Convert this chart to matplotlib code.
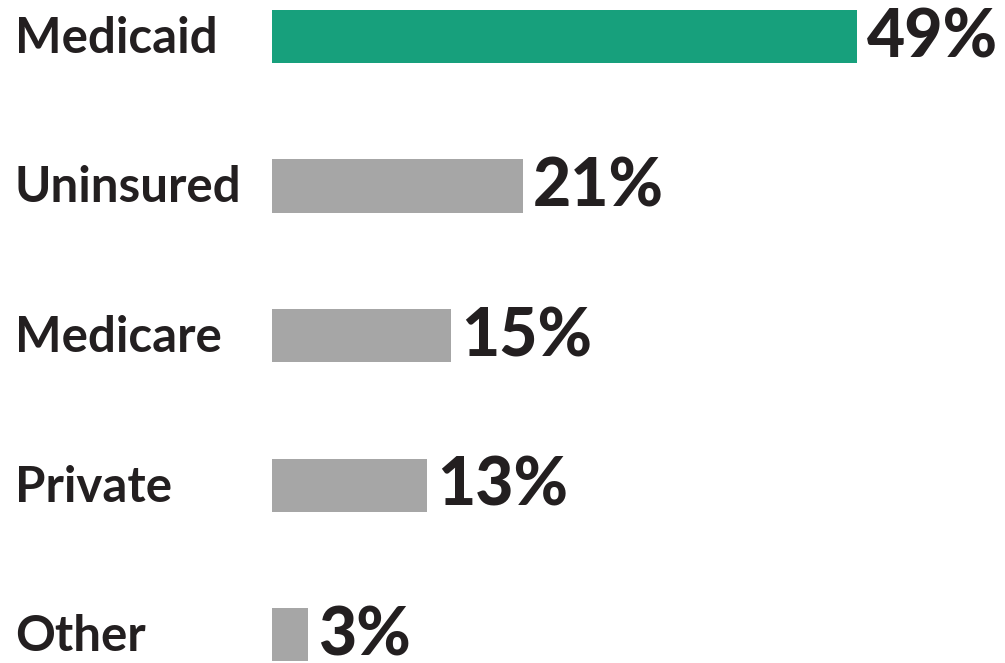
import matplotlib.pyplot as plt
import matplotlib.transforms as mtransforms

categories = ['Medicaid', 'Uninsured', 'Medicare', 'Private', 'Other']
shares = [49, 21, 15, 13, 3]
value_labels = ['49%', '21%', '15%', '13%', '3%']

green = '#17a07c'
gray = '#a6a6a6'
ink = '#231f20'

plt.rcParams['font.family'] = ['Lato', 'DejaVu Sans']

fig = plt.figure(figsize=(10.05, 6.63), dpi=100)
ax = fig.add_axes([272 / 1005, 0, 716 / 1005, 1])

colors = [green] + [gray] * (len(shares) - 1)
ypos = list(range(len(categories)))
ax.barh(ypos, shares, height=0.355, color=colors)

ax.set_xlim(0, 60)
ax.set_ylim(4.19, -0.244)
ax.axis('off')

# category names sit at the left edge of the figure
name_tf = mtransforms.blended_transform_factory(fig.transFigure, ax.transData)
for y, name in zip(ypos, categories):
    ax.text(15 / 1005, y + 0.11, name, transform=name_tf, ha='left', va='baseline',
            fontsize=35.5, fontweight='bold', color=ink)

for y, v, lab in zip(ypos, shares, value_labels):
    ax.text(v + 0.85, y + 0.14, lab, ha='left', va='baseline',
            fontsize=47.5, fontweight='black', color=ink, clip_on=False)

fig.savefig('out.png', dpi=100)
plt.close(fig)
